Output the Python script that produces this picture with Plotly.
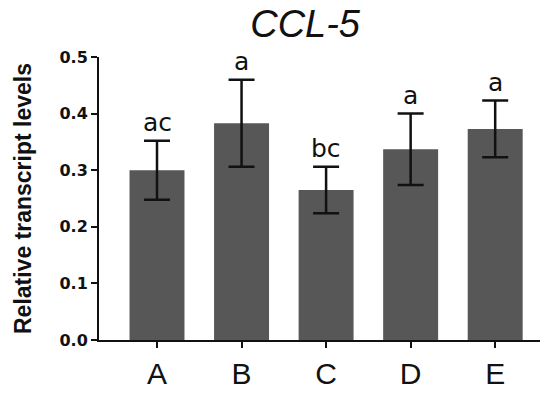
import plotly.graph_objects as go

groups = ["A", "B", "C", "D", "E"]
means = [0.300, 0.383, 0.265, 0.337, 0.373]
errors = [0.052, 0.077, 0.041, 0.063, 0.050]
letters = ["ac", "a", "bc", "a", "a"]
y_ticks = [0.0, 0.1, 0.2, 0.3, 0.4, 0.5]

fig = go.Figure()
fig.add_trace(go.Bar(
    x=groups, y=means, width=0.65,
    marker=dict(color="#575757", line=dict(width=0)),
    error_y=dict(type="data", array=errors, visible=True, color="#111111", thickness=2.5, width=13),
))

for g, m, e, t in zip(groups, means, errors, letters):
    fig.add_annotation(x=g, y=m + e, text=t, showarrow=False, yanchor="bottom", yshift=2,
                       font=dict(family="DejaVu Sans, Arial", size=25, color="#111111"))

fig.update_layout(
    width=540, height=394,
    margin=dict(l=99, r=0, t=57, b=54),
    paper_bgcolor="white", plot_bgcolor="white",
    showlegend=False,
    title=dict(text="<i>CCL-5</i>", x=0.565, xanchor="center", y=0.94, yanchor="middle",
               font=dict(family="Liberation Sans, Arial", size=38, color="#111111")),
    xaxis=dict(range=[-0.686, 4.53], showline=True, linecolor="#111111", linewidth=2,
               ticks="outside", ticklen=6, tickwidth=2, tickcolor="#111111",
               tickfont=dict(family="Liberation Sans, Arial", size=30, color="#111111"),
               showgrid=False, zeroline=False),
    yaxis=dict(range=[0, 0.5], tickvals=y_ticks, ticktext=[f"<b>{v:.1f}</b>" for v in y_ticks],
               showline=True, linecolor="#111111", linewidth=2,
               ticks="outside", ticklen=6, tickwidth=2, tickcolor="#111111",
               tickfont=dict(family="DejaVu Sans, Arial", size=16, color="#111111"),
               title=dict(text="<b>Relative transcript levels</b>", standoff=21,
                          font=dict(family="Liberation Sans, Arial", size=23, color="#111111")),
               showgrid=False, zeroline=False),
)

fig.write_html("out.html")
